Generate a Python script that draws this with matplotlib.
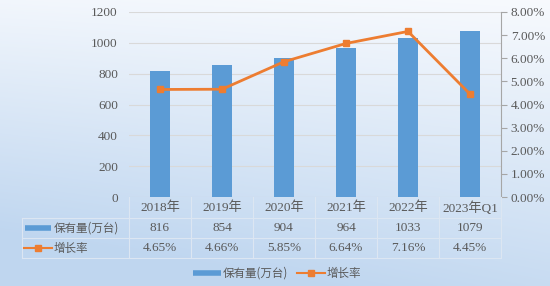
import numpy as np
import matplotlib
matplotlib.use("Agg")
import matplotlib.pyplot as plt
from matplotlib.lines import Line2D
from matplotlib.ticker import FuncFormatter, MultipleLocator

plt.rcParams['font.family'] = ['Liberation Serif', 'Noto Sans CJK SC', 'DejaVu Sans']

# data
categories = ['2018年', '2019年', '2020年', '2021年', '2022年', '2023年Q1']
stock = [816, 854, 904, 964, 1033, 1079]          # 保有量(万台)
growth = [4.65, 4.66, 5.85, 6.64, 7.16, 4.45]     # 增长率 %

BLUE = '#5B9BD5'
ORANGE = '#ED7D31'
TXT = '#595959'
FS = 9.5
CJK = dict(family=['Noto Sans CJK SC', 'DejaVu Sans'], fontsize=8.3, fontweight='light', color=TXT)

W, H = 550, 286
fig = plt.figure(figsize=(W / 100, H / 100), dpi=100)

# gradient background
bg = fig.add_axes([0, 0, 1, 1], zorder=-10)
yy, xx = np.mgrid[0:1:200j, 0:1:300j]
t = np.clip(0.85 * yy + 0.25 * (1 - xx) * yy + 0.1 * (1 - xx), 0, 1)
top = np.array([0.97, 0.98, 0.995])
bot = np.array([0.75, 0.84, 0.94])
img = top[None, None, :] * (1 - t[..., None]) + bot[None, None, :] * t[..., None]
bg.imshow(img, aspect='auto', extent=[0, 1, 1, 0])
bg.axis('off')


def fx(px):
    return px / W


def fy(py):
    return 1 - py / H


x_left, x_right, y_top, y_bot = 129, 501, 12, 197
ax = fig.add_axes([fx(x_left), fy(y_bot), fx(x_right - x_left), (y_bot - y_top) / H])
ax.patch.set_alpha(0)
x = np.arange(len(categories))
ax.bar(x, stock, width=0.32, color=BLUE, zorder=3)
ax.set_xlim(-0.5, len(categories) - 0.5)
ax.set_ylim(0, 1200)
ax.yaxis.set_major_locator(MultipleLocator(200))
ax.grid(axis='y', color='#D9D9D9', lw=0.8, zorder=0)
ax.tick_params(axis='y', length=0, labelsize=FS, labelcolor=TXT, pad=8)
ax.tick_params(axis='x', length=0, labelbottom=False)
for s in ax.spines.values():
    s.set_visible(False)

ax2 = ax.twinx()
ax2.plot(x, growth, color=ORANGE, lw=2, marker='s', ms=5, zorder=5)
ax2.set_ylim(0, 8)
ax2.yaxis.set_major_locator(MultipleLocator(1))
ax2.yaxis.set_major_formatter(FuncFormatter(lambda v, p: f'{v:.2f}%'))
ax2.tick_params(axis='y', length=4, color='#A6A6A6', labelsize=FS, labelcolor=TXT, pad=3)
for k, s in ax2.spines.items():
    s.set_visible(k == 'right')
ax2.spines['right'].set_color('#A6A6A6')

# data table below the plot
col_w = (x_right - x_left) / len(categories)
line_c = '#DCE6F2'
row_y = [208, 228, 248]
for i, cat in enumerate(categories):
    cx = fx(x_left + col_w * (i + 0.5))
    fig.text(cx, fy(row_y[0]), cat, ha='center', va='center', fontsize=FS, color=TXT)
    fig.text(cx, fy(row_y[1]), str(stock[i]), ha='center', va='center', fontsize=FS, color=TXT)
    fig.text(cx, fy(row_y[2]), f'{growth[i]:.2f}%', ha='center', va='center', fontsize=FS, color=TXT)

for i in range(len(categories) + 1):
    xp = x_left + col_w * i
    fig.add_artist(Line2D([fx(xp), fx(xp)], [fy(y_bot), fy(258)], color=line_c, lw=0.8))
fig.add_artist(Line2D([fx(22), fx(22)], [fy(218), fy(258)], color=line_c, lw=0.8))
for yp in [218, 238, 258]:
    fig.add_artist(Line2D([fx(22), fx(x_right)], [fy(yp), fy(yp)], color=line_c, lw=0.8))

# row headers with legend keys
fig.add_artist(Line2D([fx(25), fx(51)], [fy(228), fy(228)], color=BLUE, lw=4, solid_capstyle='butt'))
fig.text(fx(54), fy(row_y[1]), '保有量(万台)', ha='left', va='center', **CJK)
fig.add_artist(Line2D([fx(24), fx(52)], [fy(248), fy(248)], color=ORANGE, lw=1.5))
fig.add_artist(Line2D([fx(38)], [fy(248)], color=ORANGE, marker='s', ms=4, lw=0))
fig.text(fx(54), fy(row_y[2]), '增长率', ha='left', va='center', **CJK)

# bottom legend
fig.add_artist(Line2D([fx(193), fx(221)], [fy(273), fy(273)], color=BLUE, lw=4, solid_capstyle='butt'))
fig.text(fx(223), fy(273), '保有量(万台)', ha='left', va='center', **CJK)
fig.add_artist(Line2D([fx(297), fx(325)], [fy(273), fy(273)], color=ORANGE, lw=1.5))
fig.add_artist(Line2D([fx(311)], [fy(273)], color=ORANGE, marker='s', ms=4, lw=0))
fig.text(fx(327), fy(273), '增长率', ha='left', va='center', **CJK)

fig.savefig('out.png', dpi=100)
